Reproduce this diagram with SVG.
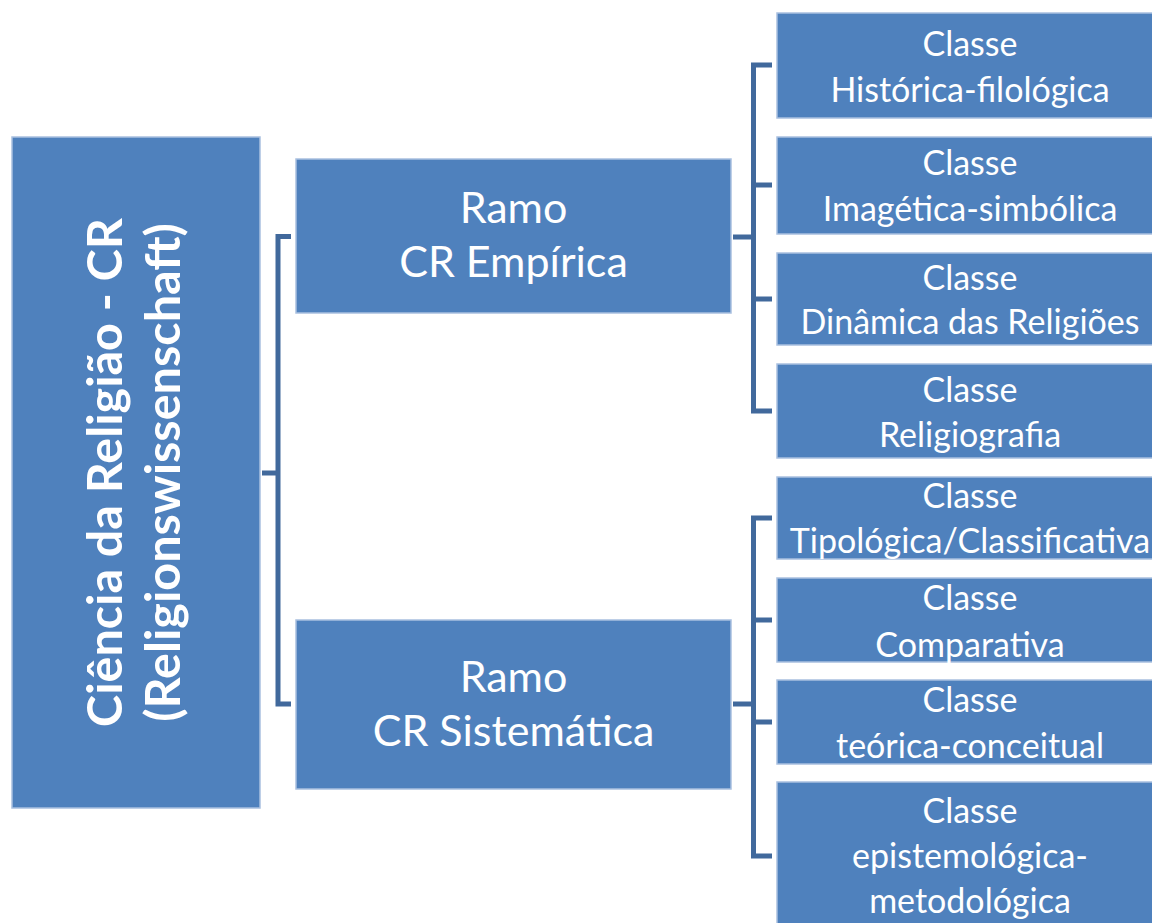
<svg xmlns="http://www.w3.org/2000/svg" width="1152" height="923" viewBox="0 0 1152 923">
<style>
.box{fill:#4f81bd;stroke:#a9c0e0;stroke-width:1.5}
.conn{fill:none;stroke:#41699c;stroke-width:5;stroke-linejoin:miter;stroke-linecap:butt}
.t{fill:#ffffff;font-family:Lato,"Liberation Sans",sans-serif;text-anchor:middle}
.c{font-size:34px}
.r{font-size:43px}
.root{font-size:48.5px;font-weight:bold}
</style>
<rect width="1152" height="923" fill="#ffffff"/>
<g id="connectors">
<path class="conn" d="M291,236.5 H278 V704 H291"/>
<path class="conn" d="M262,473 H278"/>
<path class="conn" d="M772,65 H753.5 V411 H772"/>
<path class="conn" d="M772,185 H753.5"/>
<path class="conn" d="M772,299 H753.5"/>
<path class="conn" d="M733,237 H753.5"/>
<path class="conn" d="M772,518 H753.5 V856 H772"/>
<path class="conn" d="M772,620 H753.5"/>
<path class="conn" d="M772,722 H753.5"/>
<path class="conn" d="M733,704 H753.5"/>
</g>
<g id="root">
<rect class="box" x="12" y="137" width="248" height="671"/>
<text class="t root" transform="translate(122,472.5) rotate(-90)" x="0" y="0">Ciência da Religião - CR</text>
<text class="t root" transform="translate(180,472.5) rotate(-90)" x="0" y="0">(Religionswissenschaft)</text>
</g>
<g id="ramo-empirica">
<rect class="box" x="296" y="159" width="435" height="154"/>
<text class="t r" x="513.5" y="223">Ramo</text>
<text class="t r" x="513.5" y="277">CR Empírica</text>
</g>
<g id="ramo-sistematica">
<rect class="box" x="296" y="620" width="435" height="169"/>
<text class="t r" x="513.5" y="692">Ramo</text>
<text class="t r" x="513.5" y="746">CR Sistemática</text>
</g>
<g id="classe-historica">
<rect class="box" x="777" y="13" width="390" height="105"/>
<text class="t c" x="970" y="56">Classe</text>
<text class="t c" x="970" y="102">Histórica-filológica</text>
</g>
<g id="classe-imagetica">
<rect class="box" x="777" y="137" width="390" height="97"/>
<text class="t c" x="970" y="175">Classe</text>
<text class="t c" x="970" y="221">Imagética-simbólica</text>
</g>
<g id="classe-dinamica">
<rect class="box" x="777" y="253" width="390" height="92"/>
<text class="t c" x="970" y="290">Classe</text>
<text class="t c" x="970" y="334">Dinâmica das Religiões</text>
</g>
<g id="classe-religiografia">
<rect class="box" x="777" y="364" width="390" height="94"/>
<text class="t c" x="970" y="402">Classe</text>
<text class="t c" x="970" y="447">Religiografia</text>
</g>
<g id="classe-tipologica">
<rect class="box" x="777" y="477" width="390" height="82"/>
<text class="t c" x="970" y="508">Classe</text>
<text class="t c" x="970" y="553">Tipológica/Classificativa</text>
</g>
<g id="classe-comparativa">
<rect class="box" x="777" y="578" width="390" height="84"/>
<text class="t c" x="970" y="610">Classe</text>
<text class="t c" x="970" y="657">Comparativa</text>
</g>
<g id="classe-teorica">
<rect class="box" x="777" y="680" width="390" height="84"/>
<text class="t c" x="970" y="712">Classe</text>
<text class="t c" x="970" y="758">teórica-conceitual</text>
</g>
<g id="classe-epistemologica">
<rect class="box" x="777" y="782" width="390" height="160"/>
<text class="t c" x="970" y="823">Classe</text>
<text class="t c" x="970" y="868">epistemológica-</text>
<text class="t c" x="970" y="913">metodológica</text>
</g>
</svg>
